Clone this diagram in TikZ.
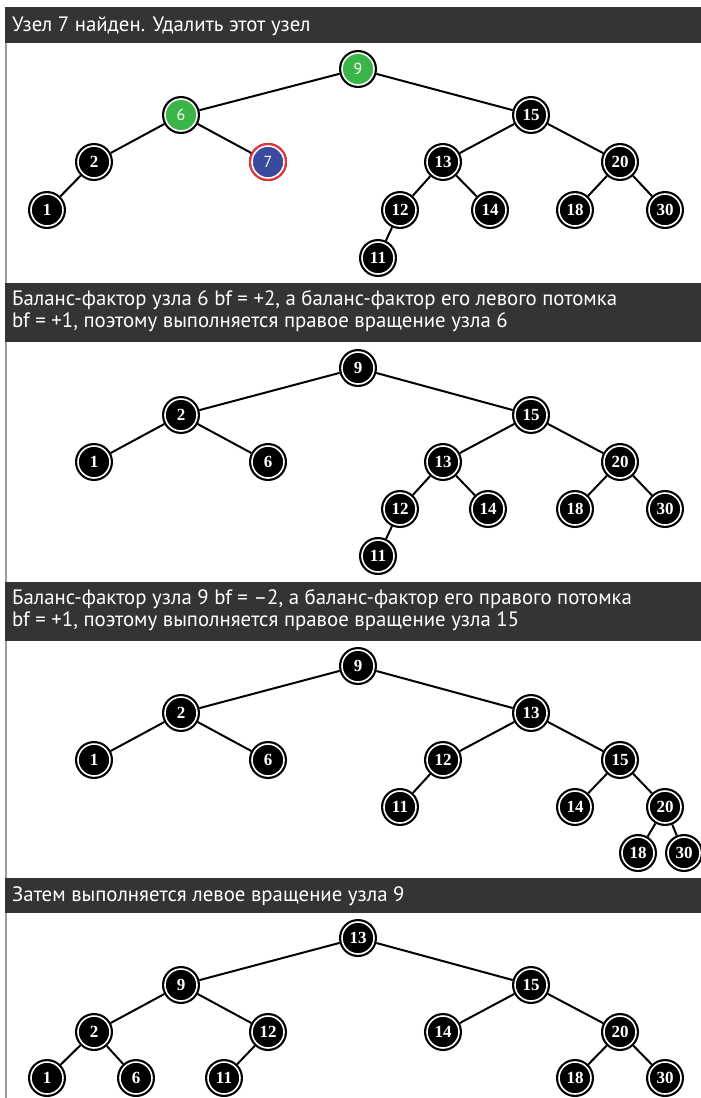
\documentclass[tikz,border=0pt]{standalone}
\usepackage{fontspec}
\setmainfont{PT Sans}
\newfontfamily\numfont{Liberation Serif}
\definecolor{hdrgray}{HTML}{333535}
\definecolor{framegray}{HTML}{9A9A9A}
\definecolor{nodegreen}{HTML}{3BB54A}
\definecolor{nodeblue}{HTML}{3A4A9C}
\definecolor{nodered}{HTML}{E8343A}

\begin{document}
\begin{tikzpicture}[x=1pt, y=-1pt,
  hdrtext/.style={text=white, anchor=base west, inner sep=0pt,
    font=\fontsize{20.8}{22}\selectfont},
  avl/.style={circle, minimum size=32pt, inner sep=0pt, outer sep=3pt,
    fill=black, draw=white, line width=1.6pt,
    preaction={draw=black, line width=6pt},
    text=white, font=\numfont\bfseries\fontsize{17}{17}\selectfont},
  found/.style={avl, fill=nodegreen, font=\fontsize{16}{16}\selectfont},
  removed/.style={avl, fill=nodeblue, preaction={draw=nodered, line width=6pt},
    font=\fontsize{16}{16}\selectfont},
  edge/.style={black, line width=2pt}]

\useasboundingbox (0,0) rectangle (701,1098);

% Frame and header bars
\draw[framegray, line width=1.5pt] (6,7) -- (6,1098);
\fill[hdrgray] (5,7) rectangle (701,43);
\fill[hdrgray] (5,283) rectangle (701,342);
\fill[hdrgray] (5,582) rectangle (701,641);
\fill[hdrgray] (5,878) rectangle (701,913);

% Header texts
\node[hdrtext] (h1) at (12,31) {Узел 7 найден. Удалить этот узел};
\node[hdrtext] (h2a) at (12,305) {Баланс-фактор узла 6 bf = +2, а баланс-фактор его левого потомка};
\node[hdrtext] (h2b) at (12,327) {bf = +1, поэтому выполняется правое вращение узла 6};
\node[hdrtext] (h3a) at (12,604) {Баланс-фактор узла 9 bf = –2, а баланс-фактор его правого потомка};
\node[hdrtext] (h3b) at (12,626) {bf = +1, поэтому выполняется правое вращение узла 15};
\node[hdrtext] (h4) at (12,901) {Затем выполняется левое вращение узла 9};

% --- Panel 1: node 7 found ---
\node[found] (a9) at (358,69) {9};
\node[found] (a6) at (181,115) {6};
\node[avl] (a15) at (531,115) {15};
\node[avl] (a2) at (94,162) {2};
\node[removed] (a7) at (268,162) {7};
\node[avl] (a13) at (443,162) {13};
\node[avl] (a20) at (620,162) {20};
\node[avl] (a1) at (47,210) {1};
\node[avl] (a12) at (400,210) {12};
\node[avl] (a14) at (490,210) {14};
\node[avl] (a18) at (575,210) {18};
\node[avl] (a30) at (665,210) {30};
\node[avl] (a11) at (378,258) {11};
\foreach \p/\c in {a9/a6, a9/a15, a6/a2, a6/a7, a2/a1, a15/a13, a15/a20,
  a13/a12, a13/a14, a12/a11, a20/a18, a20/a30}
  \draw[edge] (\p) -- (\c);

% --- Panel 2: right rotation at 6 ---
\node[avl] (b9) at (358,368) {9};
\node[avl] (b2) at (181,415) {2};
\node[avl] (b15) at (531,415) {15};
\node[avl] (b1) at (94,462) {1};
\node[avl] (b6) at (268,462) {6};
\node[avl] (b13) at (443,462) {13};
\node[avl] (b20) at (620,462) {20};
\node[avl] (b12) at (400,509) {12};
\node[avl] (b14) at (488,509) {14};
\node[avl] (b18) at (575,509) {18};
\node[avl] (b30) at (665,509) {30};
\node[avl] (b11) at (378,556) {11};
\foreach \p/\c in {b9/b2, b9/b15, b2/b1, b2/b6, b15/b13, b15/b20,
  b13/b12, b13/b14, b12/b11, b20/b18, b20/b30}
  \draw[edge] (\p) -- (\c);

% --- Panel 3: right rotation at 15 ---
\node[avl] (c9) at (358,666) {9};
\node[avl] (c2) at (181,713) {2};
\node[avl] (c13) at (531,713) {13};
\node[avl] (c1) at (94,760) {1};
\node[avl] (c6) at (268,760) {6};
\node[avl] (c12) at (443,760) {12};
\node[avl] (c15) at (620,760) {15};
\node[avl] (c11) at (400,807) {11};
\node[avl] (c14) at (575,807) {14};
\node[avl] (c20) at (665,807) {20};
\node[avl] (c18) at (638,853) {18};
\node[avl] (c30) at (684,853) {30};
\foreach \p/\c in {c9/c2, c9/c13, c2/c1, c2/c6, c13/c12, c13/c15,
  c12/c11, c15/c14, c15/c20, c20/c18, c20/c30}
  \draw[edge] (\p) -- (\c);

% --- Panel 4: left rotation at 9 ---
\node[avl] (d13) at (358,938) {13};
\node[avl] (d9) at (181,985) {9};
\node[avl] (d15) at (531,985) {15};
\node[avl] (d2) at (94,1032) {2};
\node[avl] (d12) at (268,1032) {12};
\node[avl] (d14) at (443,1032) {14};
\node[avl] (d20) at (620,1032) {20};
\node[avl] (d1) at (47,1078) {1};
\node[avl] (d6) at (136,1078) {6};
\node[avl] (d11) at (224,1078) {11};
\node[avl] (d18) at (575,1078) {18};
\node[avl] (d30) at (665,1078) {30};
\foreach \p/\c in {d13/d9, d13/d15, d9/d2, d9/d12, d2/d1, d2/d6,
  d12/d11, d15/d14, d15/d20, d20/d18, d20/d30}
  \draw[edge] (\p) -- (\c);

\end{tikzpicture}
\end{document}
